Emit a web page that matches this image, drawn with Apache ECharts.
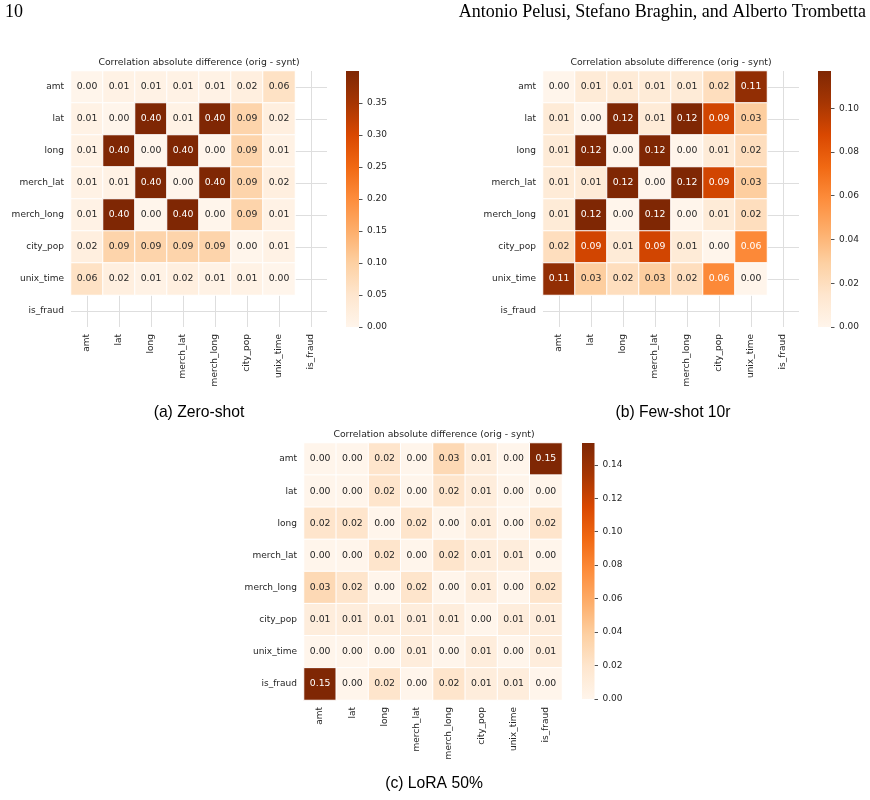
<!DOCTYPE html>
<html lang="en">
<head>
<meta charset="UTF-8">
<title>Correlation absolute difference</title>
<script src="https://cdn.jsdelivr.net/npm/echarts@6/dist/echarts.min.js"></script>
<style>html,body{margin:0;padding:0;background:#fff;}</style>
</head>
<body>
<div id="chart" style="width:870px;height:800px;"></div>
<script>
// feature names (rows and columns of every matrix)
var fields = ['amt', 'lat', 'long', 'merch_lat', 'merch_long', 'city_pop', 'unix_time', 'is_fraud'];

// (a) zero-shot, is_fraud is empty
var zeroShot = [
    [0.00, 0.01, 0.01, 0.01, 0.01, 0.02, 0.06, null],
    [0.01, 0.00, 0.40, 0.01, 0.40, 0.09, 0.02, null],
    [0.01, 0.40, 0.00, 0.40, 0.00, 0.09, 0.01, null],
    [0.01, 0.01, 0.40, 0.00, 0.40, 0.09, 0.02, null],
    [0.01, 0.40, 0.00, 0.40, 0.00, 0.09, 0.01, null],
    [0.02, 0.09, 0.09, 0.09, 0.09, 0.00, 0.01, null],
    [0.06, 0.02, 0.01, 0.02, 0.01, 0.01, 0.00, null],
    [null, null, null, null, null, null, null, null]
];
var zeroShotMax = 0.40;
var zeroShotTicks = [0, 0.05, 0.10, 0.15, 0.20, 0.25, 0.30, 0.35];

// (b) few-shot 10r
var fewShot = [
    [0.00, 0.01, 0.01, 0.01, 0.01, 0.02, 0.11, null],
    [0.01, 0.00, 0.117, 0.01, 0.117, 0.09, 0.03, null],
    [0.01, 0.117, 0.00, 0.117, 0.00, 0.01, 0.02, null],
    [0.01, 0.01, 0.117, 0.00, 0.117, 0.09, 0.03, null],
    [0.01, 0.117, 0.00, 0.117, 0.00, 0.01, 0.02, null],
    [0.02, 0.09, 0.01, 0.09, 0.01, 0.00, 0.06, null],
    [0.11, 0.03, 0.02, 0.03, 0.02, 0.06, 0.00, null],
    [null, null, null, null, null, null, null, null]
];
var fewShotMax = 0.117;
var fewShotTicks = [0, 0.02, 0.04, 0.06, 0.08, 0.10];

// (c) LoRA 50%
var lora = [
    [0.00, 0.00, 0.02, 0.00, 0.03, 0.01, 0.00, 0.153],
    [0.00, 0.00, 0.02, 0.00, 0.02, 0.01, 0.00, 0.00],
    [0.02, 0.02, 0.00, 0.02, 0.00, 0.01, 0.00, 0.02],
    [0.00, 0.00, 0.02, 0.00, 0.02, 0.01, 0.01, 0.00],
    [0.03, 0.02, 0.00, 0.02, 0.00, 0.01, 0.00, 0.02],
    [0.01, 0.01, 0.01, 0.01, 0.01, 0.00, 0.01, 0.01],
    [0.00, 0.00, 0.00, 0.01, 0.00, 0.01, 0.00, 0.01],
    [0.153, 0.00, 0.02, 0.00, 0.02, 0.01, 0.01, 0.00]
];
var loraMax = 0.153;
var loraTicks = [0, 0.02, 0.04, 0.06, 0.08, 0.10, 0.12, 0.14];

var chartTitle = 'Correlation absolute difference (orig - synt)';
var captions = ['(a) Zero-shot', '(b) Few-shot 10r', '(c) LoRA 50%'];

// matplotlib "Oranges"
var oranges = ['#fff5eb', '#fee6ce', '#fdd0a2', '#fdae6b', '#fd8d3c', '#f16913', '#d94801', '#a63603', '#7f2704'];
var textColor = '#262626';
var font = 'DejaVu Sans';

var panels = [
    {data: zeroShot, vmax: zeroShotMax, ticks: zeroShotTicks,
     grid: {left: 71, top: 71, width: 256, height: 256},
     bar: {left: 346, top: 71, width: 13, height: 256},
     title: [199, 63], caption: [199, 413]},
    {data: fewShot, vmax: fewShotMax, ticks: fewShotTicks,
     grid: {left: 543, top: 71, width: 256, height: 256},
     bar: {left: 818, top: 71, width: 13, height: 256},
     title: [671, 63], caption: [673, 413]},
    {data: lora, vmax: loraMax, ticks: loraTicks,
     grid: {left: 304, top: 443, width: 258, height: 257},
     bar: {left: 582, top: 443, width: 12.5, height: 256},
     title: [434, 435], caption: [434, 784]}
];

var chart = echarts.init(document.getElementById('chart'), null, {renderer: 'canvas'});

// gradient for the colorbars, same stops as the visual map
var barGradient = new echarts.graphic.LinearGradient(0, 1, 0, 0, oranges.map(function (c, k) {
    return {offset: k / (oranges.length - 1), color: c};
}));

var grids = [], xAxes = [], yAxes = [], series = [], visualMaps = [];
var headStyle = {fontFamily: 'Liberation Serif', fontSize: 18, fontWeight: 'normal', color: '#000'};
var titles = [
    {text: '10', left: 5, top: 12, textAlign: 'left', textVerticalAlign: 'middle', padding: 0, textStyle: headStyle},
    {text: 'Antonio Pelusi, Stefano Braghin, and Alberto Trombetta', left: 866, top: 12,
     textAlign: 'right', textVerticalAlign: 'middle', padding: 0, textStyle: headStyle}
];

panels.forEach(function (p, i) {
    var g = p.grid, b = p.bar;
    grids.push({left: g.left, top: g.top, width: g.width, height: g.height, containLabel: false, outerBoundsMode: 'none'});
    grids.push({left: b.left, top: b.top, width: b.width, height: b.height, containLabel: false, outerBoundsMode: 'none'});

    // heatmap axes
    xAxes.push({
        type: 'category', gridIndex: 2 * i, data: fields, position: 'bottom',
        axisLine: {show: false}, axisTick: {show: false}, splitLine: {show: false},
        axisLabel: {rotate: 90, interval: 0, fontSize: 9, fontFamily: font, color: textColor, margin: 7}
    });
    yAxes.push({
        type: 'category', gridIndex: 2 * i, data: fields, inverse: true, position: 'left',
        axisLine: {show: false}, axisTick: {show: false}, splitLine: {show: false},
        axisLabel: {interval: 0, fontSize: 9, fontFamily: font, color: textColor, margin: 7}
    });
    // helper axes giving the light grid lines at cell centres
    xAxes.push({
        type: 'value', gridIndex: 2 * i, min: 0, max: fields.length, interval: 1, position: 'top',
        axisLine: {show: false}, axisTick: {show: false}, axisLabel: {show: false},
        splitLine: {show: false}, minorTick: {show: false, splitNumber: 2},
        minorSplitLine: {show: true, lineStyle: {color: '#dedede', width: 1}}
    });
    yAxes.push({
        type: 'value', gridIndex: 2 * i, min: 0, max: fields.length, interval: 1, position: 'right',
        axisLine: {show: false}, axisTick: {show: false}, axisLabel: {show: false},
        splitLine: {show: false}, minorTick: {show: false, splitNumber: 2},
        minorSplitLine: {show: true, lineStyle: {color: '#dedede', width: 1}}
    });
    // colorbar axes
    xAxes.push({type: 'category', gridIndex: 2 * i + 1, data: [''], show: false});
    yAxes.push({
        type: 'value', gridIndex: 2 * i + 1, min: 0, max: p.vmax, position: 'right',
        axisLine: {show: false}, splitLine: {show: false},
        axisTick: {show: true, inside: false, length: 3.5, customValues: p.ticks, lineStyle: {color: textColor, width: 0.8}},
        axisLabel: {customValues: p.ticks, fontSize: 9, fontFamily: font, color: textColor, margin: 8,
            formatter: function (v) { return v.toFixed(2); }}
    });

    var cells = [];
    p.data.forEach(function (row, r) {
        row.forEach(function (v, c) {
            if (v === null) return;
            cells.push({
                value: [c, r, v],
                label: {color: v / p.vmax > 0.45 ? '#ffffff' : textColor}
            });
        });
    });

    series.push({
        type: 'heatmap', xAxisIndex: 3 * i, yAxisIndex: 3 * i, data: cells,
        itemStyle: {borderColor: '#ffffff', borderWidth: 1},
        label: {show: true, fontSize: 9.3, fontFamily: font,
            formatter: function (prm) { return prm.value[2].toFixed(2); }},
        emphasis: {disabled: true}
    });
    // colorbar
    series.push({
        type: 'bar', xAxisIndex: 3 * i + 2, yAxisIndex: 3 * i + 2, data: [p.vmax],
        barWidth: '100%', silent: true, z: 1,
        itemStyle: {color: barGradient, borderRadius: 0},
        emphasis: {disabled: true}
    });

    visualMaps.push({
        type: 'continuous', seriesIndex: 2 * i, min: 0, max: p.vmax, show: false,
        inRange: {color: oranges}
    });

    titles.push({text: chartTitle, left: p.title[0], top: p.title[1], textAlign: 'center',
        textVerticalAlign: 'middle', padding: 0,
        textStyle: {fontFamily: font, fontSize: 9.3, fontWeight: 'normal', color: textColor}});
    titles.push({text: captions[i], left: p.caption[0], top: p.caption[1], textAlign: 'center',
        textVerticalAlign: 'middle', padding: 0,
        textStyle: {fontFamily: 'Liberation Sans', fontSize: 15.7, fontWeight: 'normal', color: '#000'}});
});

var option = {
    backgroundColor: '#ffffff',
    animation: false,
    tooltip: {show: false},
    textStyle: {fontFamily: font},
    title: titles,
    grid: grids,
    xAxis: xAxes,
    yAxis: yAxes,
    visualMap: visualMaps,
    series: series
};

chart.setOption(option);
</script>
</body>
</html>
